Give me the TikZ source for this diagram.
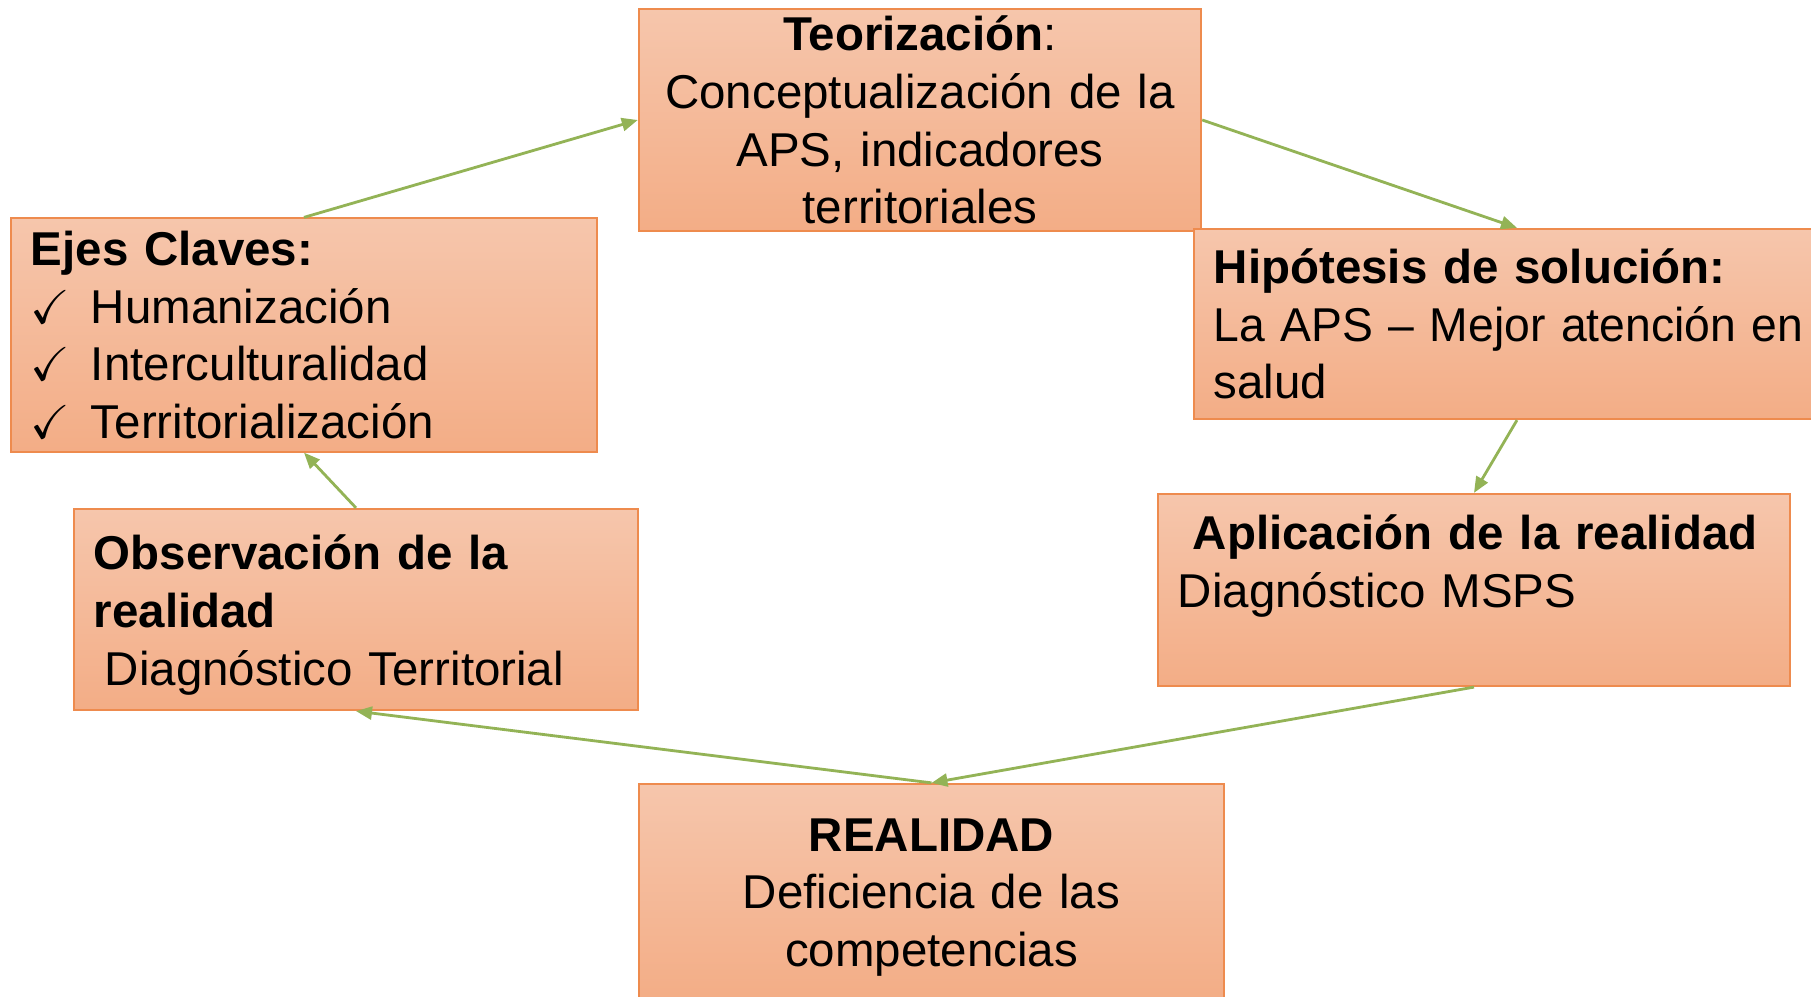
\documentclass[tikz,border=0pt]{standalone}
\usepackage{amssymb}
\usepackage{graphicx}
\usepackage{fontspec}
\setmainfont{Liberation Sans}
\usetikzlibrary{arrows.meta}
\definecolor{cajaarriba}{HTML}{F6C6AC}
\definecolor{cajaabajo}{HTML}{F3AD86}
\definecolor{cajaborde}{HTML}{EE8B4E}
\definecolor{verde}{HTML}{93B356}
\begin{document}
\begin{tikzpicture}[x=0.01cm,y=-0.01cm,
    caja/.style={draw=cajaborde,line width=0.6pt,top color=cajaarriba,bottom color=cajaabajo,
      inner xsep=0.2cm,inner ysep=0pt,font=\fontsize{13.5}{16.4}\selectfont},
    flecha/.style={draw=verde,line width=0.8pt,-{Triangle[length=0.16cm,width=0.13cm]}}]
    \useasboundingbox (0,0) rectangle (1811,997);
    \node[caja,text width=5.22cm,minimum height=2.22cm,align=center] (teo) at (920,120)
      {\textbf{Teorización}:\\Conceptualización de la\\APS, indicadores\\territoriales};
    \node[caja,text width=5.46cm,minimum height=2.33cm,align=left] (ejes) at (304,335)
      {\textbf{Ejes Claves:}\\
       \makebox[0.6cm][l]{$\checkmark$}Humanización\\
       \makebox[0.6cm][l]{$\checkmark$}Interculturalidad\\
       \makebox[0.6cm][l]{$\checkmark$}Territorialización};
    \node[caja,text width=6.06cm,minimum height=1.9cm,align=left] (hip) at (1517,324)
      {\textbf{Hipótesis de solución:}\\\scalebox{0.975}[1]{La APS -- Mejor atención en}\\salud};
    \node[caja,text width=5.92cm,minimum height=1.92cm,align=left] (apl) at (1474,590)
      {\hspace*{0.15cm}\textbf{Aplicación de la realidad}\\Diagnóstico MSPS\\\mbox{}};
    \node[caja,text width=5.24cm,minimum height=2.01cm,align=left] (obs) at (356,609.5)
      {\rule{0pt}{13pt}\textbf{Observación de la}\\\textbf{realidad}\\\hspace*{0.11cm}Diagnóstico Territorial};
    \node[caja,text width=5.45cm,minimum height=2.16cm,align=center] (real) at (931.5,892)
      {\rule{0pt}{12.4pt}\textbf{REALIDAD}\\Deficiencia de las\\competencias};
    \draw[flecha] (ejes.north) -- (teo.west);
    \draw[flecha] (teo.east) -- (hip.north);
    \draw[flecha] (hip.south) -- (apl.north);
    \draw[flecha] (apl.south) -- (real.north);
    \draw[flecha] (real.north) -- (obs.south);
    \draw[flecha] (obs.north) -- (ejes.south);
\end{tikzpicture}
\end{document}
